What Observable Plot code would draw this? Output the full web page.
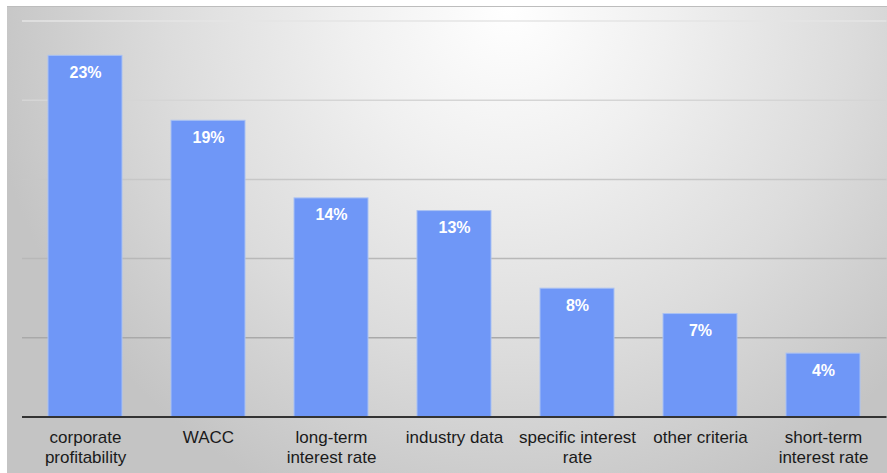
<!DOCTYPE html>
<html>
<head>
<meta charset="utf-8">
<script src="https://cdn.jsdelivr.net/npm/d3@7"></script>
<script src="https://cdn.jsdelivr.net/npm/@observablehq/plot@0.6"></script>
<style>
  html, body { margin: 0; padding: 0; background: #ffffff; }
  #wrap { position: relative; width: 887px; height: 473px; overflow: hidden; }
  #bg {
    position: absolute; left: 7px; top: 6px; right: 0; bottom: 0;
    border-top: 1px solid #bdbdbd;
    background: radial-gradient(ellipse 60% 115% at 57% 0%, #ffffff 0%, #f0f0f0 30%, #dcdcdc 65%, #c4c4c4 100%);
  }
  #chart { position: absolute; left: 0; top: 0; }
</style>
</head>
<body>
<div id="wrap"><div id="bg"></div><div id="chart"></div></div>
<script>
const categories = ["corporate\nprofitability", "WACC", "long-term\ninterest rate", "industry data", "specific interest\nrate", "other criteria", "short-term\ninterest rate"];
const values = [22.8, 18.7, 13.8, 13.0, 8.1, 6.5, 4.0];
const valueLabels = ["23%", "19%", "14%", "13%", "8%", "7%", "4%"];
const gridTicks = [5, 10, 15, 20, 25];

const data = categories.map((c, i) => ({category: c, value: values[i], label: valueLabels[i]}));
const gridColor = d3.interpolateRgb("#a9a9a9", "#e4e4e4");
const font = "Liberation Sans, Arial, Helvetica, sans-serif";

const chart = Plot.plot({
  width: 887,
  height: 473,
  marginLeft: 22,
  marginRight: 0.5,
  marginTop: 20.5,
  marginBottom: 56.5,
  style: {background: "transparent", fontFamily: font, overflow: "visible"},
  x: {type: "band", domain: categories, paddingInner: 0.4, paddingOuter: 0.2, label: null},
  y: {domain: [0, 25], axis: null},
  marks: [
    Plot.ruleY(gridTicks, {stroke: d => gridColor((d - 5) / 20), strokeWidth: 1.5}),
    Plot.barY(data, {x: "category", y: "value", fill: "#6f97f7", stroke: "#a9c1f3", strokeWidth: 1}),
    Plot.ruleY([0], {stroke: "#333333", strokeWidth: 2}),
    Plot.text(data, {x: "category", y: "value", text: "label", fill: "white", fontWeight: "bold", fontSize: 16, lineAnchor: "bottom", dy: 22, fontFamily: font}),
    Plot.axisX({tickSize: 0, tickPadding: 11.5, fontSize: 17, lineHeight: 1.18, color: "#1a1a1a", fontFamily: font, label: null})
  ]
});
document.getElementById("chart").appendChild(chart);
</script>
</body>
</html>
